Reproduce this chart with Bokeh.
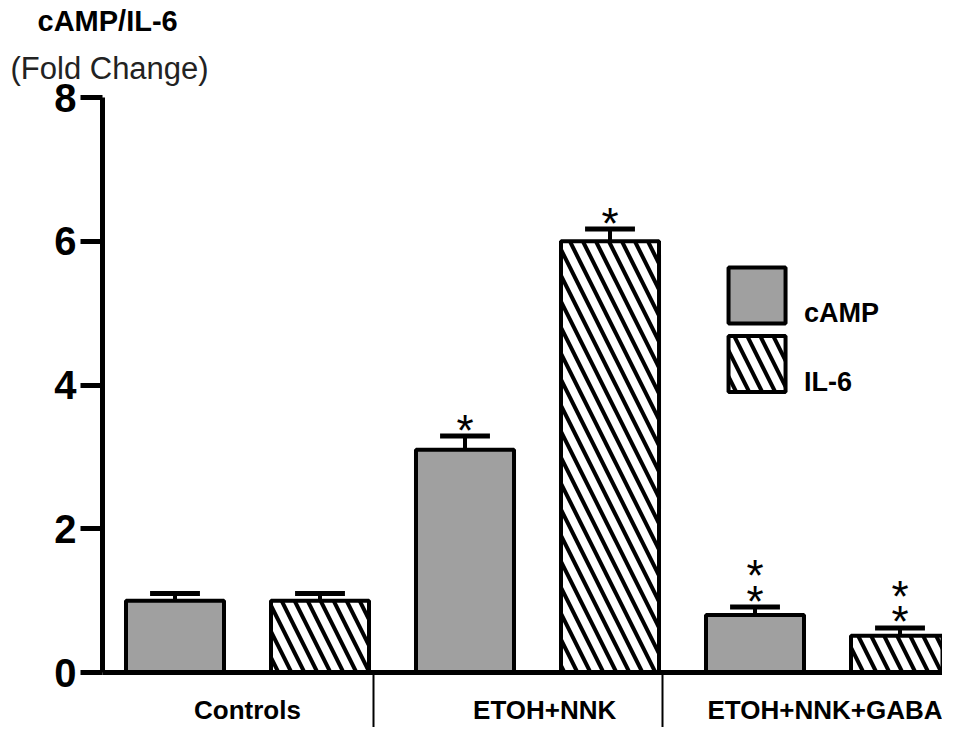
from bokeh.plotting import figure
from bokeh.models import FixedTicker, Title
from bokeh.embed import file_html
from bokeh.resources import INLINE
from bokeh.core.properties import value

# ---- data ----
groups = ["Controls", "ETOH+NNK", "ETOH+NNK+GABA"]
series = ["cAMP", "IL-6"]
camp = [1.0, 3.1, 0.8]
camp_err = [0.1, 0.19, 0.11]
il6 = [1.0, 6.0, 0.51]
il6_err = [0.1, 0.17, 0.11]
camp_stars = [0, 1, 2]
il6_stars = [0, 1, 2]
y_ticks = [0, 2, 4, 6, 8]
group_label_pos = [0.5, 2.55, 4.5]
separator_pos = [1.37, 3.36]

FONT = "Liberation Sans"
BAR_W = 0.676
CAP_HALF = 0.172

camp_x = [2 * i for i in range(len(groups))]
il6_x = [2 * i + 1 for i in range(len(groups))]

p = figure(frame_width=840, frame_height=575, x_range=(-0.5, 5.293), y_range=(0, 8),
           output_backend="svg", toolbar_location=None,
           min_border_left=102, min_border_right=0, min_border_top=97, min_border_bottom=40)
p.outline_line_color = None
p.xgrid.visible = False
p.ygrid.visible = False
p.background_fill_color = "white"

BAR_CAMP = dict(fill_color="#a0a0a0", line_color="black", line_width=4)
BAR_IL6 = dict(fill_color="white", line_color="black", line_width=4, hatch_pattern="\\",
               hatch_color="black", hatch_weight=4, hatch_scale=26)

p.vbar(x=camp_x, top=camp, width=BAR_W, bottom=0, **BAR_CAMP)
p.vbar(x=il6_x, top=il6, width=BAR_W, bottom=0, **BAR_IL6)

# error bars (upper only)
xs = camp_x + il6_x
tops = camp + il6
errs = camp_err + il6_err
ups = [t + e for t, e in zip(tops, errs)]
p.segment(x0=xs, y0=tops, x1=xs, y1=ups, line_color="black", line_width=4)
p.segment(x0=[x - CAP_HALF for x in xs], y0=ups, x1=[x + CAP_HALF for x in xs], y1=ups,
          line_color="black", line_width=5)

# significance stars
star_x, star_y = [], []
for x, u, n in zip(xs, ups, camp_stars + il6_stars):
    for k in range(n):
        star_x.append(x)
        star_y.append(u + 0.25 + 0.36 * k)
p.text(x=star_x, y=star_y, text=["*"] * len(star_x), text_font=value(FONT),
       text_font_size="44px", text_align="center", text_baseline="middle",
       text_color="black", y_offset=12)

# legend (drawn manually: boxes with labels set lower)
LEG_X = 4.014
LEG_Y = [5.245, 4.292]
LEG_TXT_X = 4.338
LEG_TXT_DY = -0.25
p.rect(x=[LEG_X], y=[LEG_Y[0]], width=57, height=56, width_units="screen",
       height_units="screen", **BAR_CAMP)
p.rect(x=[LEG_X], y=[LEG_Y[1]], width=57, height=56, width_units="screen",
       height_units="screen", **BAR_IL6)
p.text(x=[LEG_TXT_X] * 2, y=[y + LEG_TXT_DY for y in LEG_Y], text=series,
       text_font=value(FONT), text_font_size="27px", text_font_style="bold",
       text_baseline="middle", text_align="left", text_color="black")

# y axis
ya = p.yaxis[0]
ya.ticker = FixedTicker(ticks=y_ticks)
ya.axis_line_width = 5
ya.axis_line_color = "black"
ya.major_tick_line_width = 5
ya.major_tick_out = 22
ya.major_tick_in = 0
ya.minor_tick_out = 0
ya.minor_tick_in = 0
ya.major_label_standoff = 4
ya.major_label_text_font = FONT
ya.major_label_text_font_size = "40px"
ya.major_label_text_font_style = "bold"
ya.major_label_text_color = "black"

# x axis
xa = p.xaxis[0]
xa.ticker = FixedTicker(ticks=group_label_pos, minor_ticks=separator_pos)
xa.major_label_overrides = {pos: g for pos, g in zip(group_label_pos, groups)}
xa.axis_line_width = 5
xa.axis_line_color = "black"
xa.major_tick_out = 0
xa.major_tick_in = 0
xa.minor_tick_out = 60
xa.minor_tick_in = 0
xa.minor_tick_line_width = 2
xa.minor_tick_line_color = "black"
xa.major_label_standoff = -38
xa.major_label_text_font = FONT
xa.major_label_text_font_size = "26px"
xa.major_label_text_font_style = "bold"
xa.major_label_text_color = "black"

# titles (subtitle first: it sits nearest to the frame)
p.add_layout(Title(text="(Fold Change)", text_font=FONT, text_font_size="31px",
                   text_font_style="normal", text_color="#222222", align="left",
                   offset=-92, standoff=24), "above")
p.add_layout(Title(text="cAMP/IL-6", text_font=FONT, text_font_size="29px",
                   text_font_style="bold", text_color="black", align="left",
                   offset=-65, standoff=0), "above")

open("out.html", "w").write(file_html(p, INLINE))
